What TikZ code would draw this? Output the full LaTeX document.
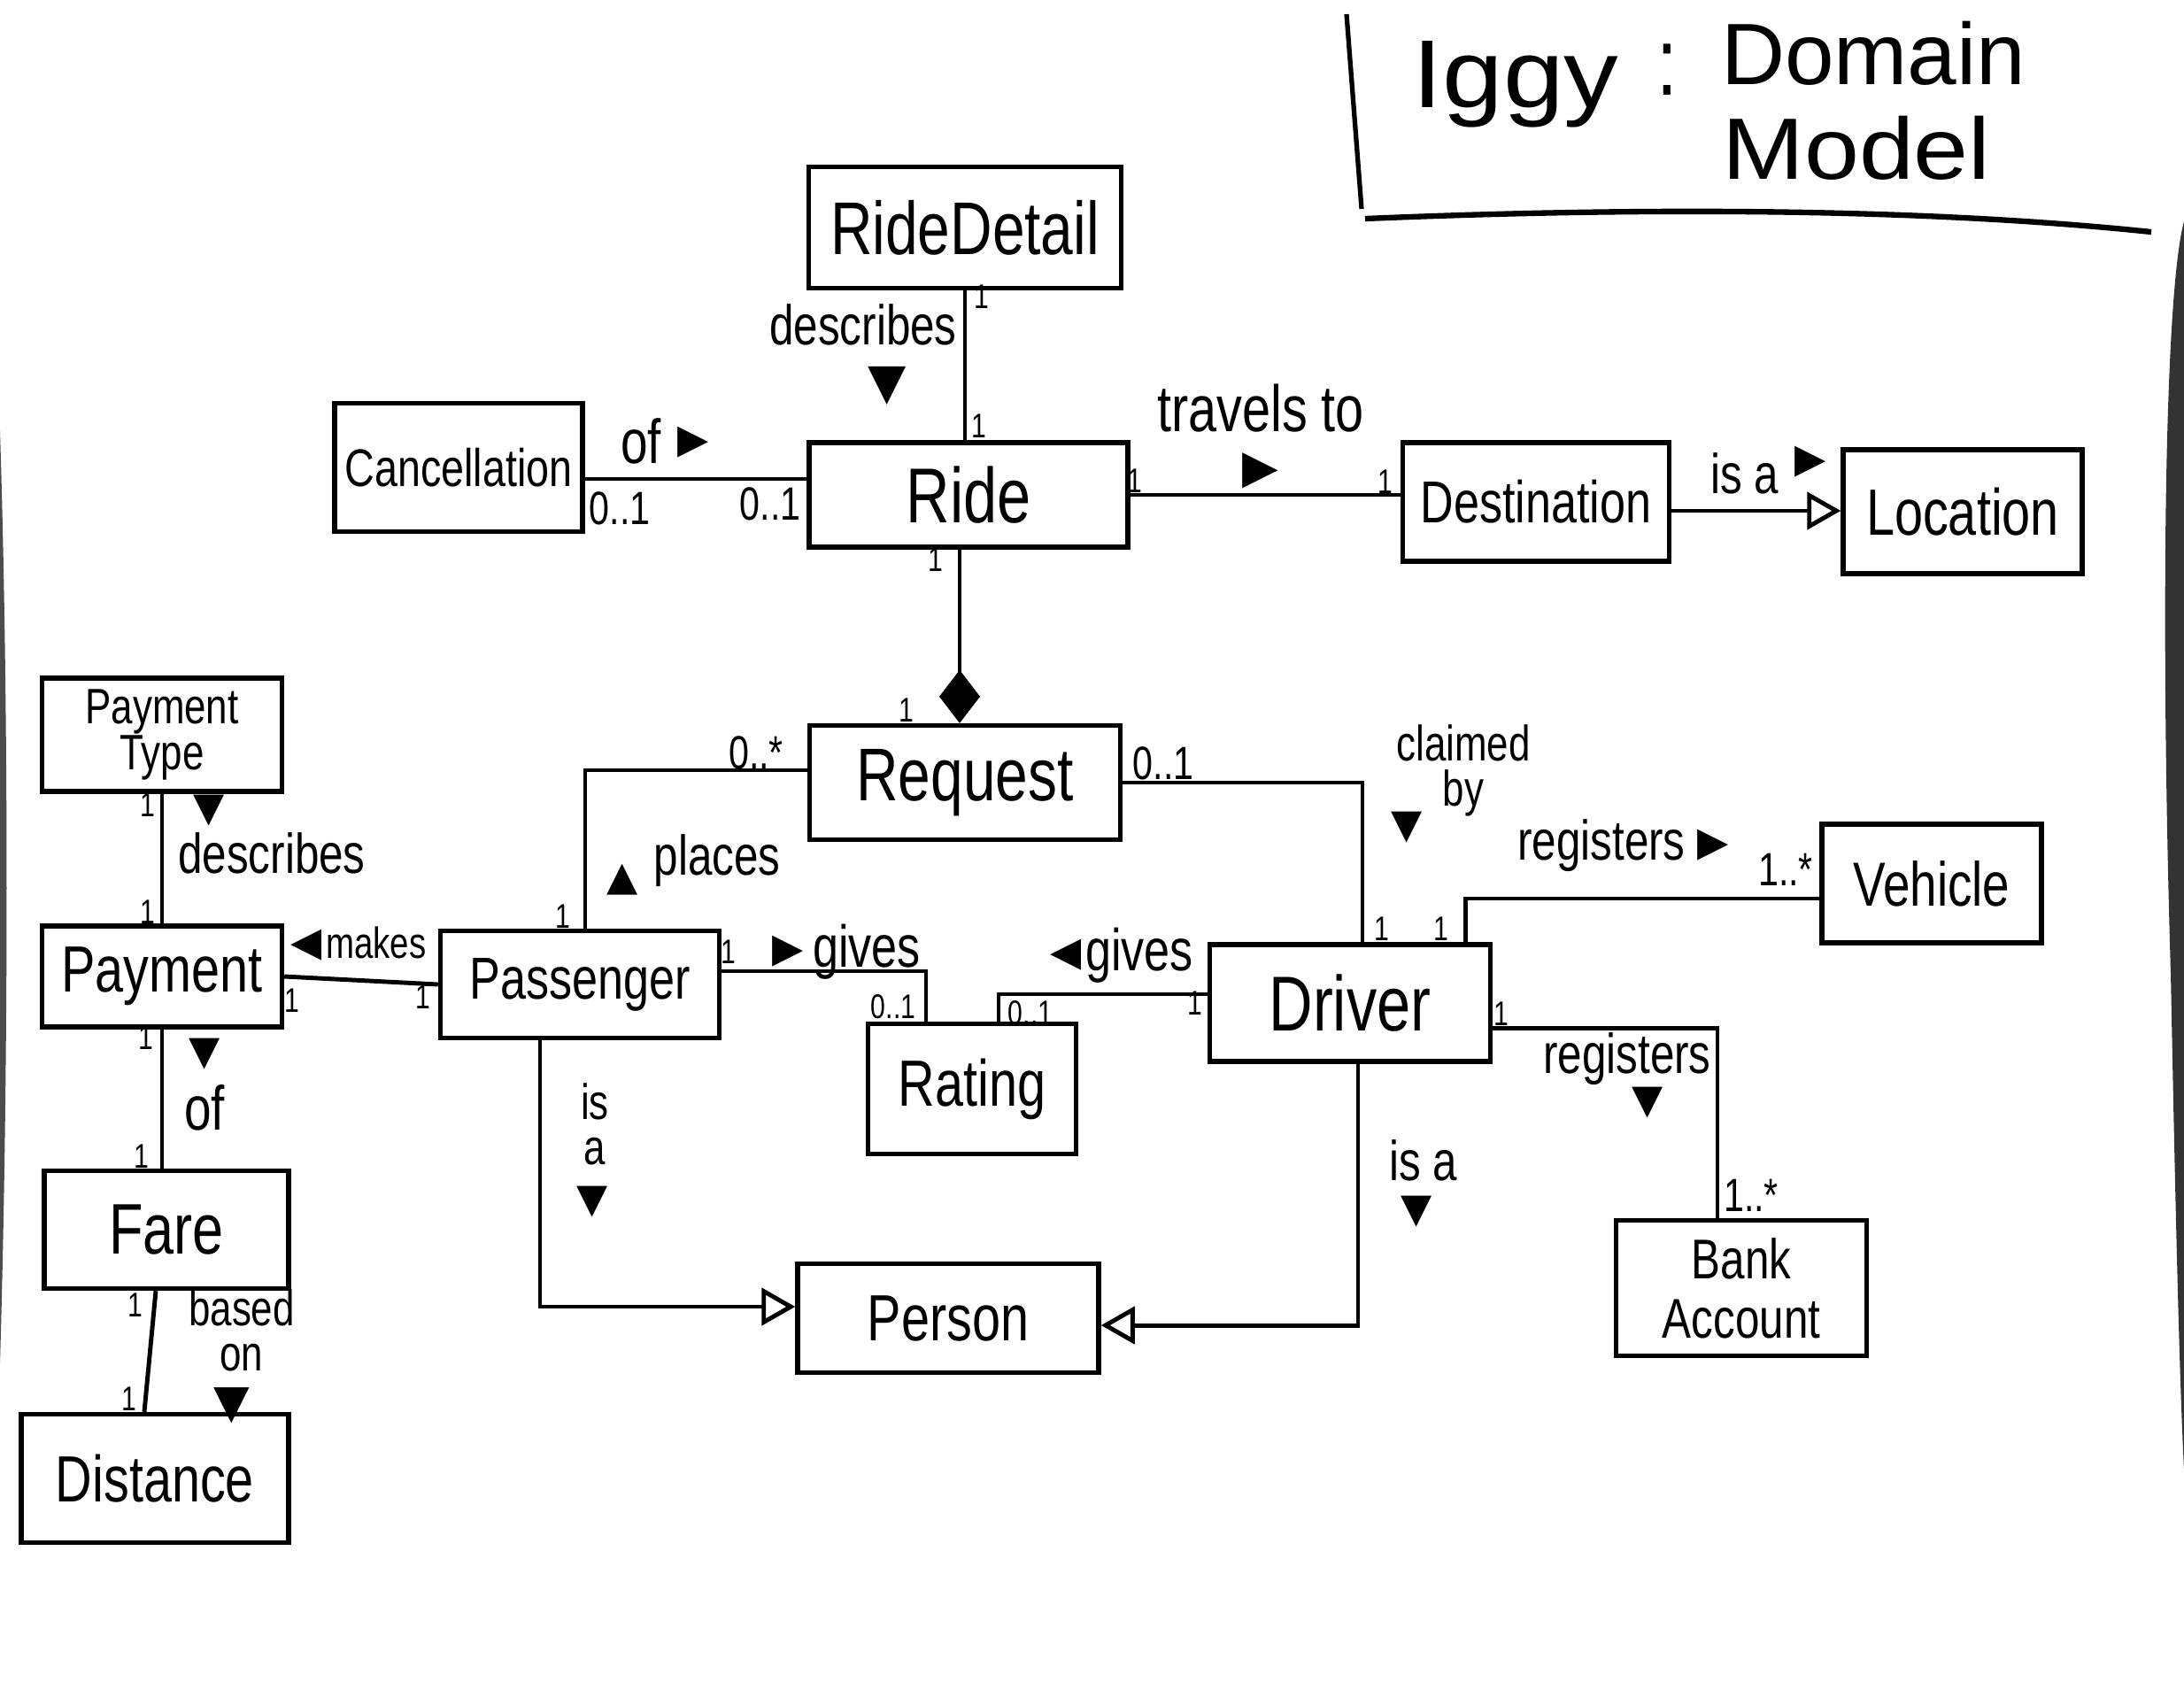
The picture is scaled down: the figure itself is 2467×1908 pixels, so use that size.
\documentclass[tikz,border=0pt]{standalone}
\usepackage{fontspec}
\usepackage{graphicx}
\setmainfont{Liberation Sans}[FakeStretch=0.78]
\newfontfamily\symf{DejaVu Sans}
\usetikzlibrary{arrows.meta}
\begin{document}
\begin{tikzpicture}[x=0.01cm,y=-0.01cm,
  cls/.style={draw, line width=1.5pt, inner sep=0pt, align=center, font=\fontsize{#1}{#1}\selectfont},
  cls/.default=21pt,
  lbl/.style={inner sep=0pt, font=\fontsize{#1}{#1}\selectfont},
  lbl/.default=18pt,
  stack/.style={inner sep=0pt, align=center, font=\fontsize{#1}{14.5pt}\selectfont},
  stack/.default=16pt,
  mult/.style={inner sep=0pt, font=\fontsize{#1}{#1}\selectfont},
  mult/.default=15pt,
  one/.style={inner sep=0pt, font=\fontsize{11pt}{11pt}\selectfont},
  tri/.style={inner sep=0pt, font=\symf\fontsize{#1}{#1}\selectfont},
  tri/.default=13pt,
  titlet/.style={inner sep=0pt, font=\fontsize{#1}{#1}\selectfont},
  conn/.style={line width=1.4pt},
  gen/.style={conn, -{Triangle[open, length=0.38cm, width=0.42cm, fill=white, line width=1.4pt]}},
  comp/.style={conn, -{Diamond[length=0.6cm, width=0.46cm]}}
]
\useasboundingbox (0,0) rectangle (2467,1908);

% scan shadows at page edges
\fill[black!80] (2467,250) .. controls (2445,330) and (2440,700) .. (2452,1100) .. controls (2458,1400) and (2462,1560) .. (2467,1660) -- cycle;
\fill[black!70] (0,487) .. controls (10,800) and (10,1200) .. (0,1540) -- cycle;

% title
\draw[line width=1.5pt] (1521,16) -- (1538,236);
\draw[line width=1.8pt] (1542,247) .. controls (1900,232) and (2200,238) .. (2430,262);
\node[titlet=31pt] (tIggy) at (1712,95) {\scalebox{1.45}[1]{Iggy}};
\node[titlet=31pt] (tColon) at (1883,79) {:};
\node[titlet=28pt] (tDomain) at (2116,60) {\scalebox{1.3}[1]{Domain}};
\node[titlet=28pt] (tModel) at (2097,167) {\scalebox{1.45}[1]{Model}};

% classes
\node[cls=24pt, minimum width=3.53cm, minimum height=1.37cm] (RideDetail) at (1090,257) {RideDetail};
\node[cls=17pt, minimum width=2.80cm, minimum height=1.45cm] (Cancellation) at (518,528) {Cancellation};
\node[cls=25pt, minimum width=3.60cm, minimum height=1.18cm] (Ride) at (1094,559) {Ride};
\node[cls=19pt, minimum width=3.01cm, minimum height=1.34cm] (Destination) at (1735,567) {Destination};
\node[cls=21pt, minimum width=2.70cm, minimum height=1.40cm] (Location) at (2217,578) {Location};
\node[cls=24pt, minimum width=3.51cm, minimum height=1.29cm] (Request) at (1090,884) {Request};
\node[draw, line width=1.5pt, inner sep=0pt, align=center, font=\fontsize{16pt}{15pt}\selectfont, minimum width=2.71cm, minimum height=1.28cm] (PaymentType) at (183,830) {Payment\\Type};
\node[cls=21pt, minimum width=2.71cm, minimum height=1.14cm] (Payment) at (183,1103) {Payment};
\node[cls=19pt, minimum width=3.15cm, minimum height=1.21cm] (Passenger) at (655,1112) {Passenger};
\node[cls=21pt, minimum width=2.35cm, minimum height=1.47cm] (Rating) at (1098,1230) {Rating};
\node[cls=25pt, minimum width=3.17cm, minimum height=1.32cm] (Driver) at (1525,1133) {Driver};
\node[cls=20pt, minimum width=2.48cm, minimum height=1.34cm] (Vehicle) at (2182,998) {Vehicle};
\node[draw, line width=1.5pt, inner sep=0pt, align=center, font=\fontsize{18pt}{19pt}\selectfont, minimum width=2.83cm, minimum height=1.53cm] (BankAccount) at (1967,1455) {Bank\\Account};
\node[cls=23pt, minimum width=2.76cm, minimum height=1.33cm] (Fare) at (188,1389) {Fare};
\node[cls=21pt, minimum width=3.02cm, minimum height=1.45cm] (Distance) at (175,1670) {Distance};
\node[cls=21pt, minimum width=3.40cm, minimum height=1.23cm] (Person) at (1071,1489) {Person};

% connectors
\draw[conn] (RideDetail.south) -- (RideDetail.south |- Ride.north);
\draw[conn] ([yshift=-0.13cm]Cancellation.east) -- ([yshift=-0.13cm]Cancellation.east -| Ride.west);
\draw[conn] (Ride.east) -- (Ride.east -| Destination.west);
\draw[gen] ([yshift=-0.1cm]Destination.east) -- ([yshift=-0.1cm]Destination.east -| Location.west);
\draw[comp] ([xshift=-0.1cm]Ride.south) -- ([xshift=-0.1cm]Ride.south |- Request.north);
\draw[conn] ([yshift=0.14cm]Request.west) -| ([xshift=0.06cm]Passenger.north);
\draw[conn] (Request.east) -| ([xshift=0.14cm]Driver.north);
\draw[conn] ([xshift=-0.31cm]Driver.north east) |- ([yshift=-0.17cm]Vehicle.west);
\draw[conn] ([yshift=-0.28cm]Driver.east) -| ([xshift=-0.27cm]BankAccount.north);
\draw[gen] ([xshift=0.09cm]Driver.south) |- ([yshift=-0.08cm]Person.east);
\draw[gen] ([xshift=-0.45cm]Passenger.south) |- ([yshift=0.13cm]Person.west);
\draw[conn] ([yshift=0.15cm]Passenger.east) -| ([xshift=-0.52cm]Rating.north);
\draw[conn] ([yshift=0.1cm]Driver.west) -| ([xshift=0.3cm]Rating.north);
\draw[conn] (Payment.east) -- (Passenger.west);
\draw[conn] (PaymentType.south) -- (Payment.north);
\draw[conn] (Payment.south) -- (Payment.south |- Fare.north);
\draw[conn] ([xshift=-0.12cm]Fare.south) -- ([xshift=-0.12cm]Distance.north);

% labels
\node[lbl] (tDescribes) at (975,367) {describes};
\node[tri=16pt] (aDescribes) at (1002,436) {▼};
\node[one] (m1) at (1109,335) {1};
\node[one] (m2) at (1106,481) {1};
\node[lbl=20pt] (tOf) at (724,498) {of};
\node[tri] (aOf) at (783,500) {▶};
\node[mult] (m3) at (700,574) {0..1};
\node[mult] (m4) at (870,569) {0..1};
\node[lbl=21pt] (tTravels) at (1424,461) {travels to};
\node[tri=15pt] (aTravels) at (1424,532) {▶};
\node[one] (m5) at (1282,543) {1};
\node[one] (m6) at (1565,544) {1};
\node[lbl] (tIsa1) at (1971,535) {is a};
\node[tri] (aIsa1) at (2045,522) {▶};
\node[one] (m7) at (1057,632) {1};
\node[one] (m8) at (1024,802) {1};
\node[mult] (m9) at (854,850) {0..*};
\node[one] (m10) at (636,1035) {1};
\node[tri] (aPlaces) at (703,994) {▲};
\node[lbl] (tPlaces) at (810,972) {places};
\node[mult] (m11) at (1314,862) {0..1};
\node[stack] (tClaimed) at (1653,870) {claimed\\by};
\node[tri] (aClaimed) at (1589,935) {▼};
\node[one] (m12) at (1561,1049) {1};
\node[one] (m13) at (1628,1049) {1};
\node[lbl] (tReg1) at (1809,955) {registers};
\node[tri] (aReg1) at (1935,955) {▶};
\node[mult] (m14) at (2017,982) {1..*};
\node[one] (m15) at (1696,1145) {1};
\node[lbl] (tReg2) at (1838,1196) {registers};
\node[tri] (aReg2) at (1861,1246) {▼};
\node[mult] (m16) at (1978,1350) {1..*};
\node[lbl] (tIsa2) at (1608,1311) {is a};
\node[tri] (aIsa2) at (1600,1369) {▼};
\node[stack] (tIsa3) at (672,1270) {is\\a};
\node[tri] (aIsa3) at (669,1358) {▼};
\node[one] (m17) at (823,1075) {1};
\node[tri] (aGives1) at (890,1075) {▶};
\node[lbl=19pt] (tGives1) at (979,1075) {gives};
\node[mult=11pt] (m18) at (1009,1137) {0..1};
\node[tri] (aGives2) at (1204,1079) {◀};
\node[lbl=19pt] (tGives2) at (1287,1079) {gives};
\node[one] (m19) at (1350,1133) {1};
\node[mult=11pt] (m20) at (1164,1144) {0..1};
\node[tri] (aMakes) at (346,1068) {◀};
\node[lbl=14pt] (tMakes) at (425,1065) {makes};
\node[one] (m21) at (330,1130) {1};
\node[one] (m22) at (478,1126) {1};
\node[one] (m23) at (167,909) {1};
\node[one] (m24) at (167,1030) {1};
\node[tri] (aDesc2) at (236,916) {▼};
\node[lbl] (tDesc2) at (307,964) {describes};
\node[one] (m25) at (165,1172) {1};
\node[one] (m26) at (160,1306) {1};
\node[tri] (aOf2) at (231,1191) {▼};
\node[lbl=20pt] (tOf2) at (231,1251) {of};
\node[one] (m27) at (153,1474) {1};
\node[one] (m28) at (146,1580) {1};
\node[stack] (tBased) at (273,1503) {based\\on};
\node[tri=15pt] (aBased) at (262,1588) {▼};
\end{tikzpicture}
\end{document}
